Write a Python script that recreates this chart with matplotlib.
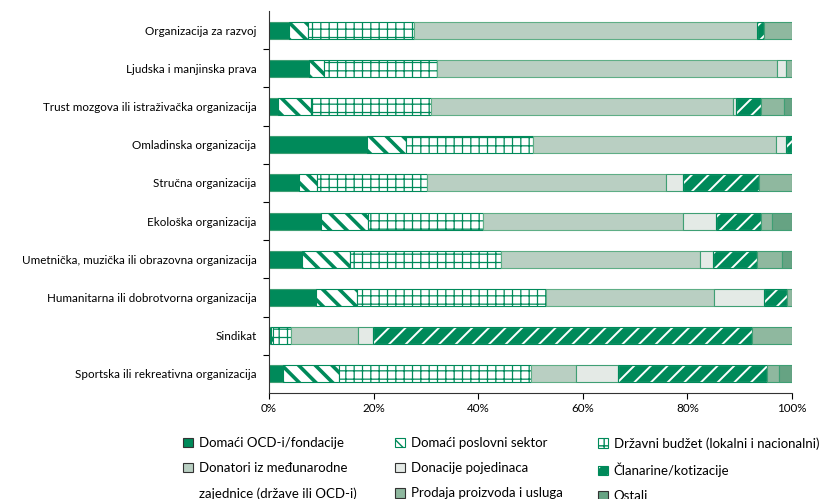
import matplotlib.pyplot as plt
import matplotlib.patches as mpatches
import numpy as np

plt.rcParams['font.family'] = ['Lato', 'DejaVu Sans']

categories = ['Organizacija za razvoj', 'Ljudska i manjinska prava',
              'Trust mozgova ili istraživačka organizacija', 'Omladinska organizacija',
              'Stručna organizacija', 'Ekološka organizacija',
              'Umetnička, muzička ili obrazovna organizacija',
              'Humanitarna ili dobrotvorna organizacija', 'Sindikat',
              'Sportska ili rekreativna organizacija']

domaci_ocd = [3.9, 7.7, 1.8, 18.7, 5.7, 9.9, 6.4, 8.9, 0.3, 2.6]
poslovni = [3.5, 2.9, 6.2, 7.4, 3.4, 9.1, 9.1, 8.0, 0.5, 10.7]
drzavni = [20.4, 21.5, 23.0, 24.3, 21.2, 21.9, 28.9, 36.0, 3.5, 36.7]
medjunarodni = [65.6, 65.0, 57.8, 46.5, 45.7, 38.3, 38.0, 32.2, 12.7, 8.7]
pojedinci = [0, 1.7, 0.5, 2.0, 3.2, 6.3, 2.4, 9.5, 2.8, 8.1]
clanarine = [1.3, 0, 4.7, 1.1, 14.5, 8.5, 8.5, 4.4, 72.5, 28.4]
prodaja = [5.3, 1.2, 4.5, 0, 6.3, 2.1, 4.8, 1.0, 7.7, 2.3]
ostali = [0, 0, 1.5, 0, 0, 3.9, 1.9, 0, 0, 2.5]

labels = ['Domaći OCD-i/fondacije', 'Domaći poslovni sektor',
          'Državni budžet (lokalni i nacionalni)',
          'Donatori iz međunarodne',
          'Donacije pojedinaca', 'Članarine/kotizacije',
          'Prodaja proizvoda i usluga', 'Ostali']
label_cont = 'zajednice (države ili OCD-i)'

green = '#008a5a'
edge = '#3f9f74'
# face, hatch colour, hatch, hatch linewidth
styles = [
    (green, edge, None, 1.0),
    ('white', green, '\\\\', 2.6),
    ('white', green, '++', 0.9),
    ('#b9cfc2', '#5fae86', None, 1.0),
    ('#e4eae6', edge, None, 1.0),
    (green, 'white', '//', 1.4),
    ('#8fb89f', edge, None, 1.0),
    ('#66a383', edge, None, 1.0),
]
series = [domaci_ocd, poslovni, drzavni, medjunarodni, pojedinci, clanarine, prodaja, ostali]


def set_hlw(p, lw):
    if hasattr(p, 'set_hatch_linewidth'):
        p.set_hatch_linewidth(lw)


fig = plt.figure(figsize=(8.28, 4.99), dpi=100)
ax = fig.add_axes([269 / 828, 1 - 393 / 499, 523 / 828, 382 / 499])

y = np.arange(len(categories))
left = np.zeros(len(categories))
for vals, (face, hc, hatch, hlw) in zip(series, styles):
    vals = np.array(vals, dtype=float)
    m = vals > 0
    bars = ax.barh(y[m], vals[m], left=left[m], height=0.45, color=face,
                   edgecolor=hc, hatch=hatch, linewidth=0.8)
    for p in bars:
        set_hlw(p, hlw)
    if hc == 'white':
        ax.barh(y[m], vals[m], left=left[m], height=0.45, fill=False,
                edgecolor=green, linewidth=0.8)
    left += vals

ax.set_xlim(0, 100)
ax.set_ylim(len(categories) - 0.5, -0.5)
ax.set_yticks(y, categories)
ax.set_yticks(y[:-1] + 0.5, minor=True)
ax.tick_params(axis='y', which='major', length=0, pad=9, labelsize=8.4)
ax.tick_params(axis='y', which='minor', length=4, width=0.8)
ax.set_xticks(range(0, 101, 20), [f'{v}%' for v in range(0, 101, 20)])
ax.tick_params(axis='x', length=4, width=0.8, labelsize=8.4, pad=3)
for s in ['top', 'right']:
    ax.spines[s].set_visible(False)
for s in ['left', 'bottom']:
    ax.spines[s].set_linewidth(0.8)
    ax.spines[s].set_color('#333333')

handles = []
for face, hc, hatch, hlw in styles:
    if hc == 'white':
        h1 = mpatches.Patch(facecolor=face, edgecolor='white', hatch=hatch, linewidth=0)
        set_hlw(h1, hlw)
        h2 = mpatches.Patch(facecolor='none', edgecolor=green, linewidth=0.8)
        handles.append((h1, h2))
    elif hatch == '\\\\':
        h = mpatches.Patch(facecolor=face, edgecolor=green, hatch='\\\\\\', linewidth=0.8)
        set_hlw(h, hlw)
        handles.append(h)
    else:
        h = mpatches.Patch(facecolor=face, edgecolor=hc if hatch else '#333333',
                           hatch=hatch, linewidth=0.8)
        set_hlw(h, hlw)
        handles.append(h)
blank = mpatches.Patch(facecolor='none', edgecolor='none')

columns = [
    (183, [handles[0], handles[3], blank], [labels[0], labels[3], label_cont]),
    (395, [handles[1], handles[4], handles[6]], [labels[1], labels[4], labels[6]]),
    (598, [handles[2], handles[5], handles[7]], [labels[2], labels[5], labels[7]]),
]
for x0, hs, ls in columns:
    fig.legend(handles=hs, labels=ls, loc='upper left',
               bbox_to_anchor=(x0 / 828, 1 - 437 / 499), borderpad=0, borderaxespad=0,
               frameon=False, fontsize=9.5, handlelength=0.75, handleheight=0.75,
               handletextpad=0.45, labelspacing=1.0)

fig.savefig('out.png', dpi=100)
